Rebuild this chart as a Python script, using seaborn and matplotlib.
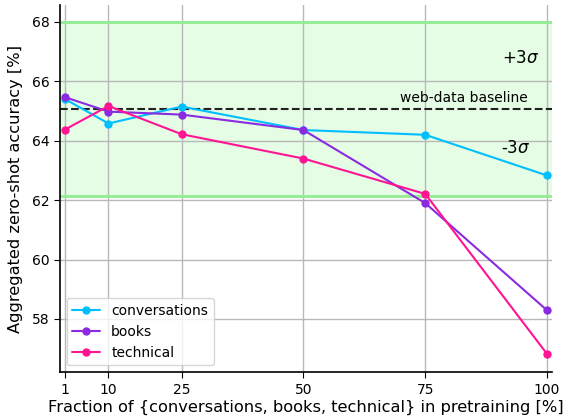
import numpy as np
import pandas as pd
import matplotlib
matplotlib.use("Agg")
import matplotlib.pyplot as plt
import seaborn as sns

# fraction of domain data in pretraining [%]
fractions = [1, 10, 25, 50, 75, 100]
conversations = [65.41, 64.58, 65.15, 64.36, 64.20, 62.83]
books = [65.47, 64.98, 64.88, 64.36, 61.90, 58.29]
technical = [64.37, 65.17, 64.22, 63.40, 62.21, 56.82]

baseline = 65.08
sigma = 0.975

df = pd.DataFrame({
    "fraction": fractions * 3,
    "acc": conversations + books + technical,
    "domain": ["conversations"] * 6 + ["books"] * 6 + ["technical"] * 6,
})
palette = {"conversations": "#00bfff", "books": "#8a2be2", "technical": "#ff1493"}

sns.set_style("white", {"text.color": "black", "axes.labelcolor": "black",
                        "xtick.color": "black", "ytick.color": "black"})
plt.rcParams["font.family"] = ["DejaVu Sans"]

fig, ax = plt.subplots(figsize=(5.69, 4.17), dpi=100)

# +-3 sigma band around the web-data baseline
ax.axhspan(baseline - 3 * sigma, baseline + 3 * sigma, color="#e5fce5", zorder=0)
ax.axhline(baseline + 3 * sigma, color="#90ee90", lw=2, zorder=1)
ax.axhline(baseline - 3 * sigma, color="#90ee90", lw=2, zorder=1)
ax.axhline(baseline, color="#222222", ls="--", lw=1.5, zorder=2)

sns.lineplot(data=df, x="fraction", y="acc", hue="domain", palette=palette,
             marker="o", markersize=6, markeredgewidth=0, linewidth=1.5, ax=ax, zorder=3)

ax.text(96, baseline + 0.37, "web-data baseline", ha="right", va="center", fontsize=10)
ax.text(98.5, 66.79, r"+3$\sigma$", ha="right", va="center", fontsize=12)
ax.text(96.7, 63.76, r"-3$\sigma$", ha="right", va="center", fontsize=12)

ax.set_xlim(0, 101)
ax.set_ylim(56.2, 68.57)
ax.set_xticks(fractions)
ax.set_yticks([58, 60, 62, 64, 66, 68])
ax.grid(True, color="#b8b8b8", lw=1)
ax.set_axisbelow(True)
ax.tick_params(axis="both", labelsize=10, length=4, color="black", bottom=True, left=True)
ax.set_xlabel("Fraction of {conversations, books, technical} in pretraining [%]",
              fontsize=11.7, labelpad=2)
ax.set_ylabel("Aggregated zero-shot accuracy [%]", fontsize=11.7, labelpad=6)
sns.despine(ax=ax)
for s in ["left", "bottom"]:
    ax.spines[s].set_color("black")
    ax.spines[s].set_linewidth(1.2)

ax.legend(loc="lower left", fontsize=10, title=None)

fig.subplots_adjust(left=0.105, right=0.97, bottom=0.107, top=0.988)
fig.savefig("out.png", dpi=100)
